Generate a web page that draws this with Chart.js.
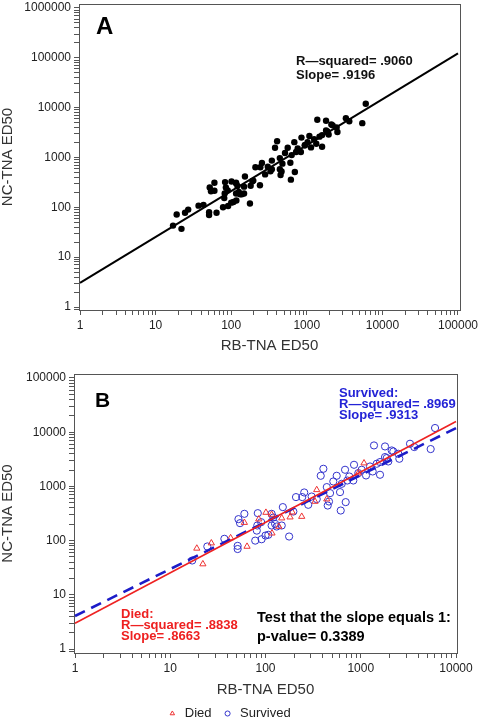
<!DOCTYPE html>
<html>
<head>
<meta charset="utf-8">
<script src="https://cdn.jsdelivr.net/npm/chart.js@4.4.0/dist/chart.umd.min.js"></script>
<style>
html, body { margin:0; padding:0; background:#fff; overflow:hidden; }
#boxA { position:absolute; left:0; top:0; width:480px; height:360px; }
#boxB { position:absolute; left:0; top:360px; width:480px; height:370px; }
</style>
</head>
<body>
<div id="boxA"><canvas id="chartA"></canvas></div>
<div id="boxB"><canvas id="chartB"></canvas></div>
<script>
// ---- data ----
var diedX = [19, 22, 27, 43, 60, 64, 85, 101, 116, 117, 138, 148, 181, 191, 240, 331, 345, 440, 943, 1082];
var diedY = [72, 37, 90, 112, 215, 78, 249, 330, 303, 137, 182, 260, 271, 335, 278, 527, 865, 583, 1762, 2690];

var survX = [17, 24.5, 37, 51, 51, 52, 54, 60, 78, 82, 81, 83, 90, 91, 100, 107, 116, 121, 116, 126,
             131, 148, 152, 177, 196, 209, 243, 255, 281, 305, 345, 380, 405, 440, 476, 450, 464, 515, 559, 606,
             616, 631, 684, 695, 722, 758, 850, 835, 943, 1023, 1136, 1250, 1377, 1334, 1471, 1593, 1798, 1874, 1946, 2113,
             2197, 2479, 2541, 3289, 3648, 5420, 6025, 1593, 1798];
var survY = [43, 78, 108, 80, 70, 249, 210, 312, 100, 190, 153, 321, 219, 106, 124, 128, 312, 267, 190, 204,
             182, 190, 415, 119, 344, 635, 635, 773, 458, 651, 583, 1571, 2115, 971, 752, 444, 526, 1233, 1571, 785,
             359, 1117, 2028, 513, 1285, 1524, 2506, 1285, 1762, 2028, 1592, 2333, 5700, 1887, 2618, 1640, 5460, 3336, 2886, 4603,
             4415, 4003, 3236, 6124, 5323, 4887, 11950, 2813, 3478];

// fitted lines (end points)
var fitAX = [1, 100000];
var fitAY = [3.05, 123000];
var fitBX = [1, 10000];
var diedFitY = [2.98, 15800];
var survFitY = [4.07, 11900];

var legendLabels = ['Died', 'Survived'];

function pts(xs, ys) {
  return xs.map(function(x, i){ return {x: x, y: ys[i]}; });
}

// ---- helpers ----
var FONT = 'Arial, "Liberation Sans", sans-serif';

function logTicks(scale) {
  var out = [];
  for (var e = -1; e <= 7; e++) {
    for (var m = 1; m <= 9; m++) {
      var v = Number((m * Math.pow(10, e)).toPrecision(3));
      if (v >= scale.min && v <= scale.max) out.push({value: v});
    }
  }
  scale.ticks = out;
}
function decadeLabel(v) {
  var l = Math.log10(v);
  if (Math.abs(l - Math.round(l)) < 1e-9) return String(Math.round(Math.pow(10, Math.round(l))));
  return '';
}

function logAxis(pos, min, max, titleText, fit) {
  return {
    type: 'logarithmic',
    position: pos,
    min: min,
    max: max,
    afterBuildTicks: logTicks,
    afterFit: fit,
    border: { display: true, color: '#555', width: 1 },
    grid: { display: true, drawOnChartArea: false, drawTicks: true, tickLength: 5, color: '#555' },
    ticks: {
      autoSkip: false, maxRotation: 0, padding: 3,
      color: '#222', font: { family: FONT, size: 12 },
      callback: decadeLabel
    },
    title: {
      display: true, text: titleText, color: '#333',
      font: { family: FONT, size: 15, lineHeight: 1 },
      padding: 0
    }
  };
}
function frameAxis(pos) {
  return {
    type: 'linear', position: pos, display: true,
    border: { display: true, color: '#555', width: 1 },
    grid: { display: false, drawTicks: false },
    ticks: { display: false }
  };
}

var notes = {
  chartA: [
    { text: 'A', x: 96, y: 34, font: 'bold 24px ' + FONT, color: '#000' },
    { text: 'R\u2014squared= .9060', x: 296, y: 65, font: 'bold 13px ' + FONT, color: '#111' },
    { text: 'Slope= .9196', x: 296, y: 79, font: 'bold 13px ' + FONT, color: '#111' }
  ],
  chartB: [
    { text: 'B', x: 95, y: 47, font: 'bold 21px ' + FONT, color: '#000' },
    { text: 'Survived:', x: 339, y: 37, font: 'bold 13px ' + FONT, color: '#2323d6' },
    { text: 'R\u2014squared= .8969', x: 339, y: 48, font: 'bold 13px ' + FONT, color: '#2323d6' },
    { text: 'Slope= .9313', x: 339, y: 59, font: 'bold 13px ' + FONT, color: '#2323d6' },
    { text: 'Died:', x: 121, y: 258, font: 'bold 13px ' + FONT, color: '#ee2020' },
    { text: 'R\u2014squared= .8838', x: 121, y: 269, font: 'bold 13px ' + FONT, color: '#ee2020' },
    { text: 'Slope= .8663', x: 121, y: 280, font: 'bold 13px ' + FONT, color: '#ee2020' },
    { text: 'Test that the slope equals 1:', x: 257, y: 262, font: 'bold 14.5px ' + FONT, color: '#000' },
    { text: 'p-value= 0.3389', x: 257, y: 281, font: 'bold 14.5px ' + FONT, color: '#000' }
  ]
};

var notesPlugin = {
  id: 'notes',
  afterDraw: function(chart) {
    var ctx = chart.ctx;
    (notes[chart.canvas.id] || []).forEach(function(n){
      ctx.save();
      ctx.font = n.font;
      ctx.fillStyle = n.color;
      ctx.textBaseline = 'alphabetic';
      ctx.textAlign = 'left';
      ctx.fillText(n.text, n.x, n.y);
      ctx.restore();
    });
  }
};

// ---- chart A ----
var xA = logAxis('bottom', 0.97, 106300, 'RB-TNA ED50', function(s){ s.height = 50; s.paddingLeft = 0; s.paddingRight = 0; });
xA.title.padding = { bottom: 7 };
new Chart(document.getElementById('chartA'), {
  type: 'scatter',
  data: {
    datasets: [
      {
        label: 'fit',
        data: pts(fitAX, fitAY),
        showLine: true, borderColor: '#000', borderWidth: 2, pointRadius: 0, order: 0
      },
      {
        label: 'all',
        data: pts(diedX.concat(survX), diedY.concat(survY)),
        pointRadius: 3.2, pointBackgroundColor: '#000', pointBorderColor: '#000', pointBorderWidth: 0, order: 1
      }
    ]
  },
  options: {
    responsive: true, maintainAspectRatio: false, animation: false,
    layout: { padding: { top: 2, right: 20, left: 0, bottom: 0 } },
    plugins: { legend: { display: false }, tooltip: { enabled: false } },
    scales: {
      x: xA,
      y: logAxis('left', 0.871, 1200000, 'NC-TNA ED50', function(s){ s.width = 79; s.paddingTop = 0; s.paddingBottom = 0; }),
      x2: frameAxis('top'),
      y2: frameAxis('right')
    }
  },
  plugins: [notesPlugin]
});
</script>
<script>
// ---- chart B ----
var xB = logAxis('bottom', 0.976, 10243, 'RB-TNA ED50', function(s){ s.height = 44; s.paddingLeft = 0; s.paddingRight = 0; });
xB.title.padding = { bottom: 0 };
new Chart(document.getElementById('chartB'), {
  type: 'scatter',
  data: {
    datasets: [
      {
        label: 'diedFit',
        data: pts(fitBX, diedFitY),
        showLine: true, borderColor: '#ee2222', borderWidth: 1.6, pointRadius: 0, order: 0
      },
      {
        label: 'survFit',
        data: pts(fitBX, survFitY),
        showLine: true, borderColor: '#1c1cc8', borderWidth: 2.6, borderDash: [11, 7], pointRadius: 0, order: 1
      },
      {
        label: legendLabels[0],
        data: pts(diedX, diedY),
        pointStyle: 'triangle', pointRadius: 3.6,
        pointBackgroundColor: 'rgba(0,0,0,0)', backgroundColor: 'rgba(0,0,0,0)',
        pointBorderColor: '#ee3333', borderColor: '#ee3333', pointBorderWidth: 1, order: 2
      },
      {
        label: legendLabels[1],
        data: pts(survX, survY),
        pointStyle: 'circle', pointRadius: 3.6,
        pointBackgroundColor: 'rgba(0,0,0,0)', backgroundColor: 'rgba(0,0,0,0)',
        pointBorderColor: '#3333cc', borderColor: '#3333cc', pointBorderWidth: 1, order: 3
      }
    ]
  },
  options: {
    responsive: true, maintainAspectRatio: false, animation: false,
    layout: { padding: { top: 14, right: 23, left: 0, bottom: 0 } },
    plugins: {
      tooltip: { enabled: false },
      legend: {
        display: true, position: 'bottom',
        labels: {
          filter: function(item){ return legendLabels.indexOf(item.text) >= 0; },
          usePointStyle: true, boxWidth: 12, boxHeight: 3.6, padding: 10,
          color: '#222', font: { family: FONT, size: 13 }
        }
      }
    },
    scales: {
      x: xB,
      y: logAxis('left', 0.845, 118500, 'NC-TNA ED50', function(s){ s.width = 74; s.paddingTop = 0; s.paddingBottom = 0; }),
      x2: frameAxis('top'),
      y2: frameAxis('right')
    }
  },
  plugins: [notesPlugin]
});
</script>
</body>
</html>
